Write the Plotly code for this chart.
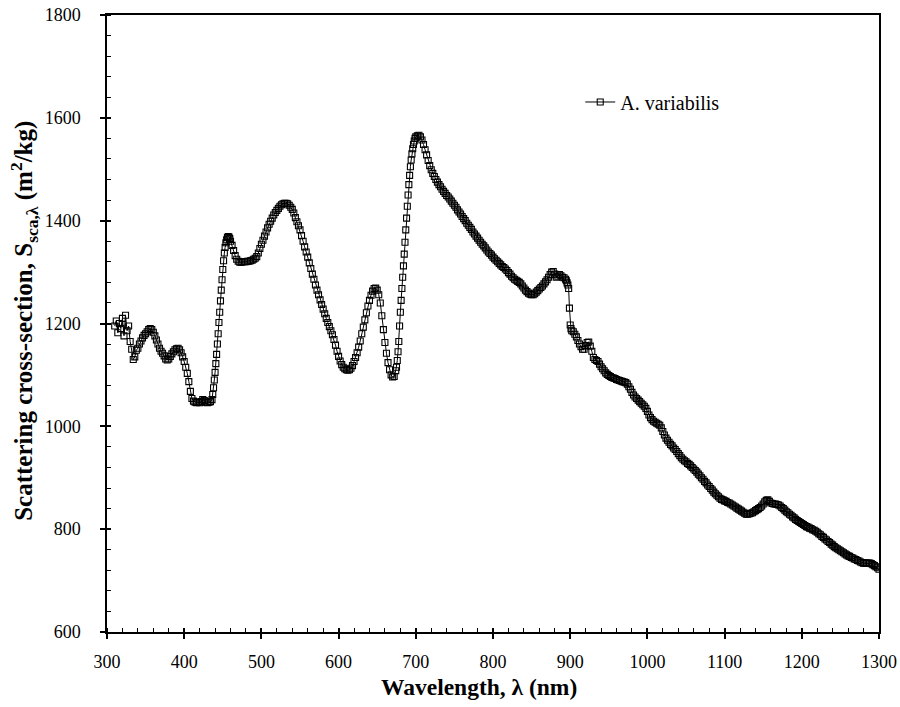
import plotly.graph_objects as go

# Wavelength grid segments (nm): 2 nm steps, 1 nm steps on the steep parts
wl_seg1 = list(range(310, 437, 2))
wl_seg2 = list(range(437, 461))
wl_seg3 = list(range(462, 675, 2))
wl_seg4 = list(range(675, 701))
wl_seg5 = list(range(702, 895, 2))
wl_seg6 = list(range(895, 903))
wl_seg7 = list(range(904, 1301, 2))

# Scattering cross-section values (m^2/kg)
s_seg1 = [1195, 1205, 1182, 1200, 1190, 1210, 1176, 1216, 1186, 1195,
          1165, 1150, 1130, 1135, 1148, 1152, 1160, 1166, 1172, 1177,
          1180, 1184, 1188, 1190, 1188, 1183, 1176, 1168, 1160, 1152,
          1146, 1142, 1137, 1131, 1129, 1131, 1136, 1141, 1145, 1149,
          1151, 1152, 1149, 1143, 1135, 1126, 1115, 1103, 1087, 1068,
          1054, 1049, 1047, 1046, 1047, 1046, 1048, 1052, 1050, 1047,
          1046, 1047, 1048, 1052]
s_seg2 = [1062, 1075, 1090, 1105, 1122, 1140, 1160, 1180, 1202, 1222,
          1244, 1265, 1285, 1305, 1322, 1337, 1348, 1357, 1363, 1367,
          1369, 1368, 1365, 1360]
s_seg3 = [1352, 1342, 1332, 1325, 1321, 1319, 1319, 1320, 1320, 1320,
          1321, 1321, 1322, 1323, 1325, 1327, 1330, 1337, 1346, 1354,
          1362, 1370, 1378, 1386, 1393, 1399, 1405, 1411, 1416, 1420,
          1424, 1428, 1431, 1433, 1434, 1434, 1433, 1430, 1426, 1422,
          1415, 1406, 1398, 1390, 1382, 1371, 1360, 1349, 1339, 1329,
          1318, 1307, 1296, 1286, 1275, 1265, 1256, 1246, 1237, 1228,
          1219, 1210, 1202, 1194, 1186, 1178, 1169, 1158, 1146, 1136,
          1127, 1120, 1115, 1112, 1110, 1109, 1110, 1113, 1118, 1126,
          1134, 1143, 1154, 1166, 1180, 1193, 1207, 1221, 1234, 1245,
          1255, 1263, 1268, 1269, 1265, 1256, 1240, 1215, 1188, 1163,
          1142, 1124, 1110, 1100, 1096, 1097, 1108]
s_seg4 = [1115, 1128, 1145, 1165, 1195, 1222, 1245, 1268, 1290, 1312,
          1335, 1358, 1382, 1405, 1428, 1450, 1470, 1488, 1505, 1518,
          1530, 1540, 1548, 1555, 1560, 1563]
s_seg5 = [1565, 1566, 1563, 1557, 1548, 1538, 1528, 1517, 1507, 1499,
          1492, 1486, 1480, 1475, 1470, 1466, 1461, 1457, 1453, 1449,
          1446, 1442, 1438, 1434, 1430, 1426, 1421, 1417, 1413, 1408,
          1404, 1400, 1395, 1391, 1387, 1383, 1378, 1374, 1370, 1366,
          1362, 1358, 1354, 1351, 1347, 1343, 1339, 1336, 1333, 1329,
          1326, 1323, 1320, 1317, 1314, 1311, 1309, 1306, 1303, 1299,
          1296, 1292, 1289, 1286, 1284, 1282, 1280, 1277, 1273, 1269,
          1265, 1262, 1259, 1257, 1256, 1256, 1258, 1261, 1264, 1267,
          1270, 1273, 1277, 1281, 1285, 1290, 1295, 1300, 1301, 1296,
          1290, 1292, 1295, 1293, 1290, 1289, 1286]
s_seg6 = [1283, 1279, 1275, 1268, 1230, 1197, 1190, 1186]
s_seg7 = [1184, 1179, 1174, 1167, 1160, 1155, 1150, 1150, 1157, 1163,
          1164, 1156, 1146, 1134, 1130, 1128, 1126, 1121, 1116, 1112,
          1108, 1104, 1101, 1099, 1097, 1095, 1094, 1093, 1091, 1090,
          1089, 1088, 1087, 1086, 1085, 1082, 1077, 1072, 1066, 1061,
          1057, 1054, 1051, 1048, 1045, 1042, 1039, 1035, 1029, 1022,
          1017, 1013, 1010, 1008, 1006, 1004, 1002, 997, 990, 983,
          977, 973, 969, 965, 962, 958, 955, 951, 947, 943,
          939, 936, 933, 931, 928, 926, 923, 920, 917, 914,
          911, 907, 904, 900, 897, 893, 890, 886, 883, 879,
          876, 872, 869, 866, 863, 860, 858, 857, 855, 854,
          852, 851, 849, 847, 845, 843, 841, 839, 837, 835,
          833, 831, 829, 829, 830, 831, 832, 834, 836, 838,
          840, 842, 845, 849, 853, 856, 857, 854, 851, 850,
          849, 849, 848, 847, 845, 842, 840, 837, 834, 832,
          829, 827, 824, 822, 819, 817, 815, 813, 811, 809,
          807, 805, 804, 802, 801, 799, 798, 796, 794, 791,
          789, 786, 784, 781, 779, 776, 774, 771, 769, 766,
          764, 762, 760, 758, 756, 754, 752, 750, 748, 747,
          745, 744, 742, 741, 739, 738, 736, 735, 734, 734,
          734, 734, 734, 733, 731, 729, 727, 725, 722]

series_name = "A. variabilis"
x_ticks = [300, 400, 500, 600, 700, 800, 900, 1000, 1100, 1200, 1300]
y_ticks = [600, 800, 1000, 1200, 1400, 1600, 1800]

wavelength = []
s_sca = []
for w, s in [(wl_seg1, s_seg1), (wl_seg2, s_seg2), (wl_seg3, s_seg3), (wl_seg4, s_seg4),
             (wl_seg5, s_seg5), (wl_seg6, s_seg6), (wl_seg7, s_seg7)]:
    if len(w) != len(s):
        print("length mismatch", w[0], len(w), len(s))
    n = min(len(w), len(s))
    wavelength += w[:n]
    s_sca += s[:n]

FONT = "Liberation Serif, Times New Roman, serif"

fig = go.Figure()
fig.add_trace(go.Scatter(
    x=wavelength, y=s_sca, mode="lines+markers", name=series_name,
    line=dict(color="black", width=1),
    marker=dict(symbol="square-open", size=6, color="black", line=dict(width=1.1, color="black")),
))
# invisible trace to host the overlay axes (inner half of the crossing major ticks)
fig.add_trace(go.Scatter(x=[None], y=[None], xaxis="x2", yaxis="y2",
                         showlegend=False, hoverinfo="skip"))

axis_common = dict(showgrid=False, zeroline=False, color="black", automargin=False)
fig.update_layout(
    width=900, height=707,
    margin=dict(l=107, r=21, t=15, b=75, autoexpand=False),
    paper_bgcolor="white", plot_bgcolor="white",
    font=dict(family=FONT, color="black"),
    xaxis=dict(range=[300, 1300], tickvals=x_ticks, ticks="outside", ticklen=5, tickwidth=1.5,
               tickcolor="black", showline=True, linewidth=1.5, linecolor="black", mirror=True,
               tickfont=dict(family=FONT, size=18, color="black"), ticklabelstandoff=8,
               ticklabeloverflow="allow",
               minor=dict(dtick=20, tick0=300, ticks="inside", ticklen=4, tickwidth=1.2,
                          tickcolor="black", showgrid=False),
               **axis_common),
    yaxis=dict(range=[600, 1800], tickvals=y_ticks, ticks="outside", ticklen=5, tickwidth=1.5,
               tickcolor="black", showline=True, linewidth=1.5, linecolor="black", mirror=True,
               tickfont=dict(family=FONT, size=18, color="black"), ticklabelstandoff=16,
               ticklabeloverflow="allow",
               minor=dict(dtick=40, tick0=600, ticks="inside", ticklen=4, tickwidth=1.2,
                          tickcolor="black", showgrid=False),
               **axis_common),
    xaxis2=dict(overlaying="x", anchor="y", side="bottom", range=[300, 1300], tickvals=x_ticks,
                ticks="inside", ticklen=4, tickwidth=1.5, tickcolor="black",
                showticklabels=False, showline=False, **axis_common),
    yaxis2=dict(overlaying="y", anchor="x", side="left", range=[600, 1800], tickvals=y_ticks,
                ticks="inside", ticklen=4, tickwidth=1.5, tickcolor="black",
                showticklabels=False, showline=False, **axis_common),
    legend=dict(x=0.613, y=0.859, xanchor="left", yanchor="middle",
                bgcolor="rgba(0,0,0,0)", font=dict(family=FONT, size=20, color="black")),
    annotations=[
        dict(text="<b>Wavelength, λ (nm)</b>", xref="paper", yref="paper",
             x=0.4825, y=-0.089, xanchor="center", yanchor="middle", showarrow=False,
             font=dict(family=FONT, size=23.5, color="black")),
        dict(text="<b>Scattering cross-section, S<sub>sca,λ</sub> (m<sup>2</sup>/kg)</b>",
             xref="paper", yref="paper", x=-0.107, y=0.505, xanchor="center", yanchor="middle",
             textangle=-90, showarrow=False,
             font=dict(family=FONT, size=25, color="black")),
    ],
)

# remove the page's default body margin so the 900x707 figure fills the window exactly
fig.write_html("out.html",
               config={"displayModeBar": False},
               post_script="document.body.style.margin='0';"
                           "document.documentElement.style.overflow='hidden';")
